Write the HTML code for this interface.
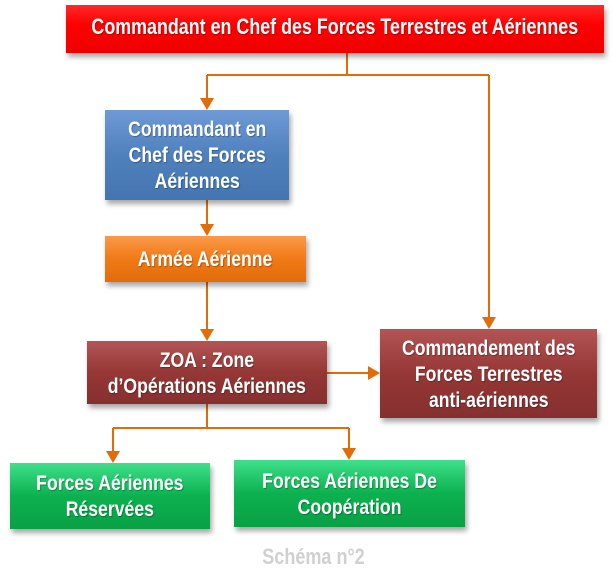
<!DOCTYPE html>
<html><head><meta charset="utf-8"><style>
body{margin:0;width:613px;height:583px;background:#fff;position:relative;overflow:hidden;font-family:"Liberation Sans",sans-serif;}
.b{position:absolute;display:flex;align-items:center;justify-content:center;text-align:center;color:#fff;font-weight:bold;font-size:21.5px;line-height:26px;box-shadow:2px 4px 5px rgba(0,0,0,.35);box-sizing:border-box;text-shadow:1px 1px 1px rgba(0,0,0,.3);white-space:nowrap;}
.b span,.c span{display:inline-block;transform:scaleX(.82);}
svg{position:absolute;left:0;top:0}
</style></head><body>
<svg width="613" height="583">
<g stroke="#e36c0a" stroke-width="2" fill="none">
<path d="M347 53V75M207 75H489M207 75V100M489 75V319M207 200V226M207 282V331M327 373H370M207 404V428M113 428H349M113 428V453M349 428V450"/>
</g>
<g fill="#e36c0a">
<path d="M200 98h14l-7 12z"/><path d="M482 317h14l-7 12z"/><path d="M200 224h14l-7 12z"/><path d="M200 329h14l-7 12z"/><path d="M368 366v14l12-7z"/><path d="M106 451h14l-7 12z"/><path d="M342 448h14l-7 12z"/>
</g>
</svg>
<div class="b" style="left:66px;top:5px;width:538px;height:48px;background:linear-gradient(#ff2a2a,#f00 40%,#e00);font-size:21.8px;padding-bottom:4px"><span>Commandant en Chef des Forces Terrestres et Aériennes</span></div>
<div class="b" style="left:105px;top:110px;width:184px;height:90px;background:linear-gradient(#6f9ad6,#4f81bd 50%,#4475b0)"><span>Commandant en<br>Chef des Forces<br>Aériennes</span></div>
<div class="b" style="left:105px;top:236px;width:201px;height:46px;background:linear-gradient(#fb9a4a,#f07a16 50%,#e36c0a)"><span>Armée Aérienne</span></div>
<div class="b" style="left:87px;top:341px;width:240px;height:63px;background:linear-gradient(#b35555,#953735 50%,#853030)"><span>ZOA : Zone<br>d’Opérations Aériennes</span></div>
<div class="b" style="left:380px;top:329px;width:217px;height:89px;background:linear-gradient(#b35555,#953735 50%,#853030)"><span>Commandement des<br>Forces Terrestres<br>anti-aériennes</span></div>
<div class="b" style="left:10px;top:463px;width:200px;height:66px;background:linear-gradient(#3ee08a,#0cb14f 50%,#0aa046)"><span>Forces Aériennes<br>Réservées</span></div>
<div class="b" style="left:234px;top:460px;width:231px;height:67px;background:linear-gradient(#3ee08a,#0cb14f 50%,#0aa046)"><span>Forces Aériennes De<br>Coopération</span></div>
<div class="c" style="position:absolute;left:213px;top:544px;width:200px;text-align:center;color:#d0d0d0;font-weight:bold;font-size:22px"><span>Schéma n°2</span></div>
</body></html>
